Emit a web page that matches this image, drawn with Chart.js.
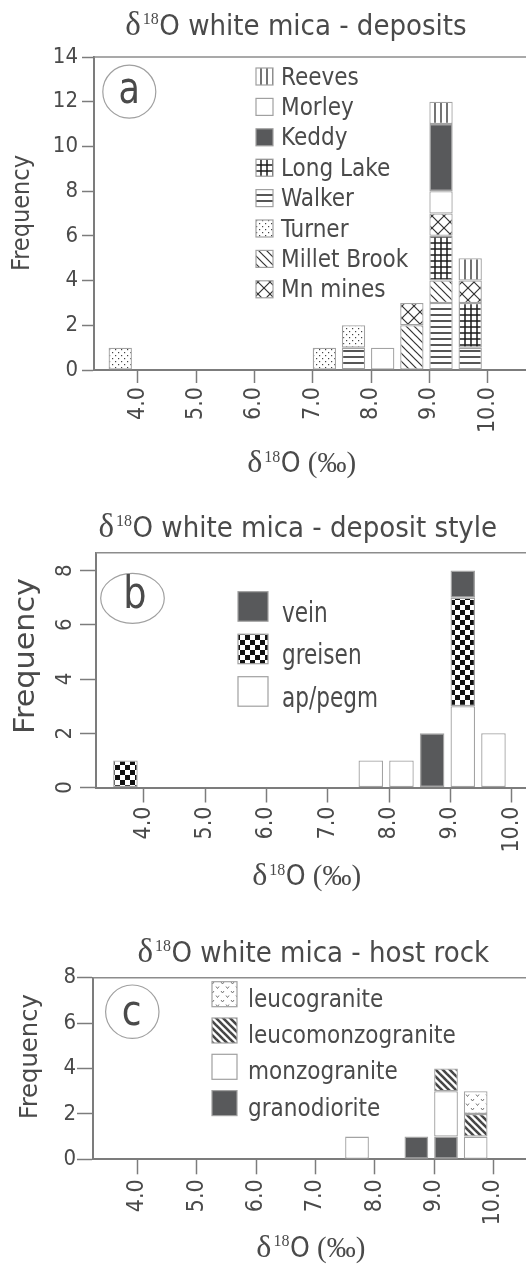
<!DOCTYPE html>
<html><head><meta charset="utf-8">
<script src="https://cdn.jsdelivr.net/npm/chart.js@4.4.1/dist/chart.umd.min.js"></script>
<style>
html,body{margin:0;padding:0;background:#fff;overflow:hidden;}
#wrap{position:relative;width:526px;height:1264px;overflow:hidden;background:#fff;}
canvas{position:absolute;left:0;}
</style></head><body>
<div id="wrap">
<canvas id="ca" width="600" height="490" style="top:0px"></canvas>
<canvas id="cb" width="600" height="410" style="top:490px"></canvas>
<canvas id="cc" width="600" height="364" style="top:900px"></canvas>
</div>
<script>
// ---------- data ----------
const xTickValues = [4, 5, 6, 7, 8, 9, 10];
const xTickLabels = ['4.0', '5.0', '6.0', '7.0', '8.0', '9.0', '10.0'];
const yTicksA = [0, 2, 4, 6, 8, 10, 12, 14];
const yTicksB = [0, 2, 4, 6, 8];
const yTicksC = [0, 2, 4, 6, 8];

// panel a: deposits (bin centres of 0.4-wide bins)
const binsA = [3.7, 7.2, 7.7, 8.2, 8.7, 9.2, 9.7];
const walker      = [0, 0, 1, 0, 0, 3, 1];
const turner      = [1, 1, 1, 0, 0, 0, 0];
const milletBrook = [0, 0, 0, 0, 2, 1, 0];
const longLake    = [0, 0, 0, 0, 0, 2, 2];
const mnMines     = [0, 0, 0, 0, 1, 1, 1];
const morley      = [0, 0, 0, 1, 0, 1, 0];
const keddy       = [0, 0, 0, 0, 0, 3, 0];
const reeves      = [0, 0, 0, 0, 0, 1, 1];
const legendA = ['Reeves', 'Morley', 'Keddy', 'Long Lake', 'Walker', 'Turner', 'Millet Brook', 'Mn mines'];

// panel b: deposit style
const binsB = [3.7, 7.7, 8.2, 8.7, 9.2, 9.7];
const apPegm  = [0, 1, 1, 0, 3, 2];
const greisen = [1, 0, 0, 0, 4, 0];
const vein    = [0, 0, 0, 2, 1, 0];
const legendB = ['vein', 'greisen', 'ap/pegm'];

// panel c: host rock
const binsC = [7.7, 8.7, 9.2, 9.7];
const granodiorite      = [0, 1, 1, 0];
const monzogranite      = [1, 0, 2, 1];
const leucomonzogranite = [0, 0, 1, 1];
const leucogranite      = [0, 0, 0, 1];
const legendC = ['leucogranite', 'leucomonzogranite', 'monzogranite', 'granodiorite'];

const titleA = 'O white mica - deposits';
const titleB = 'O white mica - deposit style';
const titleC = 'O white mica - host rock';
const yTitle = 'Frequency';

// ---------- styling ----------
const FONT = "'DejaVu Sans Condensed', 'DejaVu Sans', sans-serif";
const LFONT = "'DejaVu Sans', sans-serif";
const SERIF = "'Liberation Serif', 'DejaVu Serif', serif";
const TXT = '#4a4a4a';
const AXIS = '#7c7c7c';
const DARK = '#58595b';
const EDGE = '#a3a3a3';

function pat(ctx, w, h, draw) {
  const c = document.createElement('canvas');
  c.width = w; c.height = h;
  const g = c.getContext('2d');
  g.fillStyle = '#fff'; g.fillRect(0, 0, w, h);
  draw(g, w, h);
  return ctx.createPattern(c, 'repeat');
}
function line(g, x1, y1, x2, y2) { g.beginPath(); g.moveTo(x1, y1); g.lineTo(x2, y2); g.stroke(); }
function back(g, w, h) { line(g, -1, -1, w + 1, h + 1); line(g, w - 1, -1, w + 1, 1); line(g, -1, h - 1, 1, h + 1); }
function fwd(g, w, h) { line(g, -1, h + 1, w + 1, -1); line(g, -1, 1, 1, -1); line(g, w - 1, h + 1, w + 1, h - 1); }

function patterns(ctx) {
  return {
    white: '#ffffff',
    solid: DARK,
    vlines: pat(ctx, 6, 6, g => { g.strokeStyle = '#2a2a2a'; g.lineWidth = 1.3; line(g, 3, 0, 3, 6); }),
    hlines: pat(ctx, 6, 6, g => { g.strokeStyle = '#1e1e1e'; g.lineWidth = 1.5; line(g, 0, 3, 6, 3); }),
    grid: pat(ctx, 6, 6, g => { g.strokeStyle = '#1a1a1a'; g.lineWidth = 1.5; line(g, 3, 0, 3, 6); line(g, 0, 3, 6, 3); }),
    dots: pat(ctx, 6, 6, g => { g.fillStyle = '#444'; g.fillRect(1, 1, 1.2, 1.2); g.fillRect(4, 4, 1.2, 1.2); }),
    diag: pat(ctx, 8, 8, g => { g.strokeStyle = '#333'; g.lineWidth = 1.2; back(g, 8, 8); }),
    cross: pat(ctx, 12, 12, g => { g.strokeStyle = '#333'; g.lineWidth = 1.2; back(g, 12, 12); fwd(g, 12, 12); }),
    checker: pat(ctx, 10, 10, g => { g.fillStyle = '#111'; g.fillRect(0, 0, 5, 5); g.fillRect(5, 5, 5, 5); }),
    vmarks: pat(ctx, 10, 9, g => {
      g.strokeStyle = '#6a6a6a'; g.lineWidth = 0.9;
      [[2.5, 2], [7.5, 6.5]].forEach(([x, y]) => { g.beginPath(); g.moveTo(x - 1.5, y - 1); g.lineTo(x, y + 1); g.lineTo(x + 1.5, y - 1); g.stroke(); });
    }),
    thick: pat(ctx, 7, 7, g => { g.strokeStyle = '#474747'; g.lineWidth = 2.6; back(g, 7, 7); }),
  };
}

function ds(label, bins, vals, fill) {
  return {
    label,
    data: bins.map((x, i) => ({ x, y: vals[i] ? vals[i] : null })),
    backgroundColor: fill,
    borderColor: EDGE,
    borderWidth: 1.3,
    borderSkipped: false,
    barPercentage: 0.8,
    categoryPercentage: 1,
    stack: 's'
  };
}

function drawRich(ctx, segs, cx, y) {
  let total = 0;
  segs.forEach(s => { ctx.font = s.font; s.w = ctx.measureText(s.text).width; total += s.w + (s.gap || 0); });
  let x = cx - total / 2;
  ctx.textAlign = 'left'; ctx.textBaseline = 'alphabetic'; ctx.fillStyle = TXT;
  segs.forEach(s => { ctx.font = s.font; ctx.fillText(s.text, x, y + (s.dy || 0)); x += s.w + (s.gap || 0); });
}
function deltaHead(size) {
  return [
    { text: 'δ', font: Math.round(size * 1.15) + 'px ' + SERIF, gap: 2 },
    { text: '18', font: Math.round(size * 0.56) + 'px ' + SERIF, dy: -size * 0.37, gap: 0.5 },
  ];
}

function decor(spec) {
  return {
    id: 'decor',
    afterDraw(chart) {
      const ctx = chart.ctx, a = chart.chartArea;
      ctx.save();
      // top frame line
      ctx.strokeStyle = '#8c8c8c'; ctx.lineWidth = 1.5;
      ctx.beginPath(); ctx.moveTo(a.left, a.top); ctx.lineTo(chart.width, a.top); ctx.stroke();
      // chart title
      drawRich(ctx, deltaHead(spec.title.size).concat([{ text: spec.title.text, font: spec.title.size + 'px ' + FONT }]), spec.title.x, spec.title.y);
      // x axis title
      const xs = spec.xTitle.size;
      drawRich(ctx, deltaHead(xs).concat([
        { text: 'O', font: xs + 'px ' + FONT, gap: 0 },
        { text: ' (‰)', font: Math.round(xs * 1.05) + 'px ' + SERIF }
      ]), spec.xTitle.x, spec.xTitle.y);
      // y axis title
      ctx.save();
      ctx.translate(spec.yTitle.x, spec.yTitle.y); ctx.rotate(-Math.PI / 2);
      ctx.scale(spec.yTitle.stretch, 1);
      ctx.font = spec.yTitle.size + 'px ' + FONT; ctx.fillStyle = TXT;
      ctx.textAlign = 'center'; ctx.textBaseline = 'middle';
      ctx.fillText(yTitle, 0, 0);
      ctx.restore();
      // panel letter
      const c = spec.circle;
      ctx.strokeStyle = '#a0a0a0'; ctx.lineWidth = 1.2;
      ctx.beginPath(); ctx.ellipse(c.x, c.y, c.rx, c.ry, 0, 0, Math.PI * 2); ctx.stroke();
      ctx.save();
      ctx.translate(c.lx, c.ly); ctx.scale(1, c.sy);
      ctx.font = c.size + 'px ' + LFONT; ctx.fillStyle = TXT;
      ctx.textAlign = 'center'; ctx.textBaseline = 'alphabetic';
      ctx.fillText(c.letter, 0, 0);
      ctx.restore();
      // legend
      const L = spec.legend;
      L.items.forEach((name, i) => {
        const d = chart.data.datasets.find(q => q.label === name);
        const top = L.top + i * L.step;
        ctx.fillStyle = d.backgroundColor;
        ctx.fillRect(L.x, top, L.w, L.h);
        ctx.strokeStyle = '#a0a0a0'; ctx.lineWidth = 1.2;
        ctx.strokeRect(L.x, top, L.w, L.h);
        ctx.save();
        ctx.translate(L.textX, top + L.base); ctx.scale(1, L.sy);
        ctx.fillStyle = TXT; ctx.font = L.size + 'px ' + FONT;
        ctx.textAlign = 'left'; ctx.textBaseline = 'alphabetic';
        ctx.fillText(name, 0, 0);
        ctx.restore();
      });
      ctx.restore();
    }
  };
}

function makeChart(id, cfg) {
  const el = document.getElementById(id);
  return new Chart(el.getContext('2d'), {
    type: 'bar',
    data: { datasets: cfg.datasets },
    options: {
      responsive: false,
      animation: false,
      devicePixelRatio: 1,
      layout: { padding: { left: 0, right: cfg.padR, top: cfg.padT, bottom: 0 } },
      plugins: { legend: { display: false }, title: { display: false }, tooltip: { enabled: false } },
      scales: {
        x: {
          type: 'linear', min: cfg.xMin, max: 11, stacked: true, offset: false,
          afterBuildTicks: s => { s.ticks = xTickValues.map(v => ({ value: v })); },
          afterFit: s => { s.height = cfg.xH; },
          ticks: {
            autoSkip: false, minRotation: 90, maxRotation: 90, padding: cfg.xPad,
            color: TXT, font: { family: FONT, size: 23 },
            callback: (v, i) => xTickLabels[i]
          },
          grid: { offset: false, drawOnChartArea: false, drawTicks: true, tickLength: cfg.xTick, tickColor: AXIS, tickWidth: 1.5, color: AXIS },
          border: { display: true, color: AXIS, width: 2 }
        },
        y: {
          type: 'linear', min: 0, max: cfg.yMax, stacked: true,
          afterBuildTicks: s => { s.ticks = cfg.yTicks.map(v => ({ value: v })); },
          afterFit: s => { s.width = cfg.yW; },
          ticks: Object.assign({
            padding: cfg.yPad, color: TXT, font: { family: FONT, size: 22 },
            callback: v => String(v)
          }, cfg.yRot ? { minRotation: 90, maxRotation: 90, crossAlign: 'center' } : {}),
          grid: { drawOnChartArea: false, drawTicks: true, tickLength: cfg.yTick, tickColor: AXIS, tickWidth: 1.5, color: AXIS },
          border: { display: true, color: AXIS, width: 2 }
        }
      }
    },
    plugins: [decor(cfg.decor)]
  });
}

// ---------- panel a ----------
const pa = patterns(document.getElementById('ca').getContext('2d'));
makeChart('ca', {
  datasets: [
    ds('Walker', binsA, walker, pa.hlines),
    ds('Turner', binsA, turner, pa.dots),
    ds('Millet Brook', binsA, milletBrook, pa.diag),
    ds('Long Lake', binsA, longLake, pa.grid),
    ds('Mn mines', binsA, mnMines, pa.cross),
    ds('Morley', binsA, morley, pa.white),
    ds('Keddy', binsA, keddy, pa.solid),
    ds('Reeves', binsA, reeves, pa.vlines),
  ],
  padR: 54, padT: 57, xH: 120, yW: 94, xMin: 3.25, yMax: 14, yTicks: yTicksA,
  xTick: 13, xPad: 4, yTick: 12, yPad: 4, yRot: false,
  decor: {
    title: { text: titleA, x: 296, y: 35, size: 29 },
    xTitle: { x: 301.7, y: 472, size: 28 },
    yTitle: { x: 22.5, y: 213, size: 25, stretch: 1.0 },
    circle: { x: 129.3, y: 91.7, rx: 26.5, ry: 26.5, letter: 'a', lx: 129.2, ly: 103.3, size: 35, sy: 1.27 },
    legend: { items: legendA, x: 256, top: 68, step: 30.4, w: 17, h: 17, textX: 281, size: 24, base: 16.5, sy: 1.0 }
  }
});

// ---------- panel b ----------
const pb = patterns(document.getElementById('cb').getContext('2d'));
makeChart('cb', {
  datasets: [
    ds('ap/pegm', binsB, apPegm, pb.white),
    ds('greisen', binsB, greisen, pb.checker),
    ds('vein', binsB, vein, pb.solid),
  ],
  padR: 26.8, padT: 62.7, xH: 112.5, yW: 96, xMin: 3.22, yMax: 8.66, yTicks: yTicksB,
  xTick: 15, xPad: 4, yTick: 16, yPad: 8, yRot: true,
  decor: {
    title: { text: titleB, x: 297.8, y: 46.7, size: 29 },
    xTitle: { x: 306.7, y: 395, size: 28 },
    yTitle: { x: 26.7, y: 166, size: 28, stretch: 1.2 },
    circle: { x: 132.5, y: 108.3, rx: 31.8, ry: 25, letter: 'b', lx: 135, ly: 118.3, size: 36.7, sy: 1.19 },
    legend: { items: legendB, x: 238, top: 101.7, step: 42.5, w: 30, h: 29.5, textX: 282, size: 24, base: 30, sy: 1.15 }
  }
});

// ---------- panel c ----------
const pc = patterns(document.getElementById('cc').getContext('2d'));
makeChart('cc', {
  datasets: [
    ds('granodiorite', binsC, granodiorite, pc.solid),
    ds('monzogranite', binsC, monzogranite, pc.white),
    ds('leucomonzogranite', binsC, leucomonzogranite, pc.thick),
    ds('leucogranite', binsC, leucogranite, pc.vmarks),
  ],
  padR: 47.2, padT: 77.7, xH: 104.7, yW: 93, xMin: 3.25, yMax: 8, yTicks: yTicksC,
  xTick: 15, xPad: 5, yTick: 16, yPad: 1, yRot: false,
  decor: {
    title: { text: titleC, x: 313.3, y: 61.7, size: 29 },
    xTitle: { x: 310.8, y: 356.7, size: 28 },
    yTitle: { x: 30.8, y: 156.7, size: 25, stretch: 1.08 },
    circle: { x: 132.3, y: 111.7, rx: 26.7, ry: 26.7, letter: 'c', lx: 131.7, ly: 125, size: 36, sy: 1.16 },
    legend: { items: legendC, x: 212, top: 81.7, step: 36.3, w: 25, h: 25, textX: 248, size: 24, base: 25, sy: 1.05 }
  }
});
</script>
</body></html>
